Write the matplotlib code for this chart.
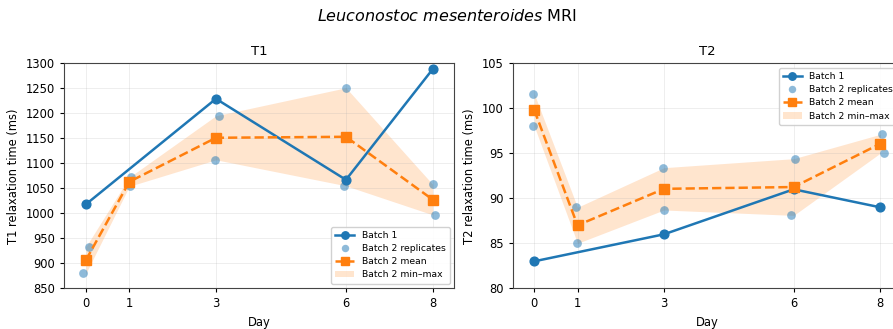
import numpy as np
import matplotlib
matplotlib.use("Agg")
import matplotlib.pyplot as plt

# Sampling days
days_b1 = [0, 3, 6, 8]
days_b2 = [0, 1, 3, 6, 8]

# Batch 1 (single measurement per day)
t1_batch1 = [1018, 1229, 1067, 1288]
t2_batch1 = [83.0, 86.0, 91.0, 89.0]

# Batch 2 replicates (two per day)
t1_rep_a = [880, 1072, 1195, 1251, 1058]
t1_rep_b = [933, 1054, 1107, 1055, 997]
t2_rep_a = [101.6, 89.0, 93.4, 94.4, 97.1]
t2_rep_b = [98.0, 85.0, 88.7, 88.1, 95.0]

# Small horizontal offsets used to separate overlapping replicate dots
t1_jit_a = [-0.07, 0.05, 0.07, 0.0, 0.0]
t1_jit_b = [0.06, 0.02, -0.03, -0.05, 0.05]
t2_jit_a = [-0.04, -0.03, -0.03, 0.02, 0.05]
t2_jit_b = [-0.03, -0.02, 0.01, -0.06, 0.1]

C0 = "#1f77b4"
C1 = "#ff7f0e"

fig = plt.figure(figsize=(8.93, 3.29), dpi=100)
ax1 = fig.add_axes([0.072, 0.1237, 0.4367, 0.684])
ax2 = fig.add_axes([0.5741, 0.1237, 0.4357, 0.684])

fig.suptitle(r"$\it{Leuconostoc\ mesenteroides}$ MRI", fontsize=11.5, y=0.975)


def draw(ax, b1, ra, rb, ja, jb, title, ylabel, ylim, yticks, loc):
    ra = np.array(ra, dtype=float)
    rb = np.array(rb, dtype=float)
    d2 = np.array(days_b2, dtype=float)
    mean = (ra + rb) / 2
    lo = np.minimum(ra, rb)
    hi = np.maximum(ra, rb)

    band = ax.fill_between(d2, lo, hi, color=C1, alpha=0.2, linewidth=0,
                           label="Batch 2 min\u2013max", zorder=1)
    h1, = ax.plot(days_b1, b1, "-o", color=C0, lw=1.8, ms=6.3,
                  label="Batch 1", zorder=3)
    h2, = ax.plot(np.concatenate([d2 + np.array(ja), d2 + np.array(jb)]),
                  np.concatenate([ra, rb]), "o", color=C0, alpha=0.5, ms=6.3,
                  markeredgewidth=0, label="Batch 2 replicates", zorder=2)
    h3, = ax.plot(d2, mean, "--s", color=C1, lw=1.8, ms=6.8,
                  label="Batch 2 mean", zorder=4)

    ax.set_xlim(-0.5, 8.5)
    ax.set_xticks(days_b2)
    ax.set_ylim(*ylim)
    ax.set_yticks(yticks)
    ax.grid(True, alpha=0.25, lw=0.6)
    ax.set_title(title, fontsize=9.5)
    ax.set_xlabel("Day", fontsize=8.3)
    ax.set_ylabel(ylabel, fontsize=8.3)
    ax.tick_params(labelsize=8.3, length=3)
    for s in ax.spines.values():
        s.set_color("#444444")
    ax.legend(handles=[h1, h2, h3, band], loc=loc, fontsize=6.7,
              framealpha=0.9, borderpad=0.45, handlelength=2.0,
              labelspacing=0.45, markerscale=0.85)


draw(ax1, t1_batch1, t1_rep_a, t1_rep_b, t1_jit_a, t1_jit_b,
     "T1", "T1 relaxation time (ms)", (850, 1300),
     np.arange(850, 1301, 50), "lower right")
draw(ax2, t2_batch1, t2_rep_a, t2_rep_b, t2_jit_a, t2_jit_b,
     "T2", "T2 relaxation time (ms)", (80, 105),
     np.arange(80, 106, 5), "upper right")

fig.savefig("out.png", dpi=100)
